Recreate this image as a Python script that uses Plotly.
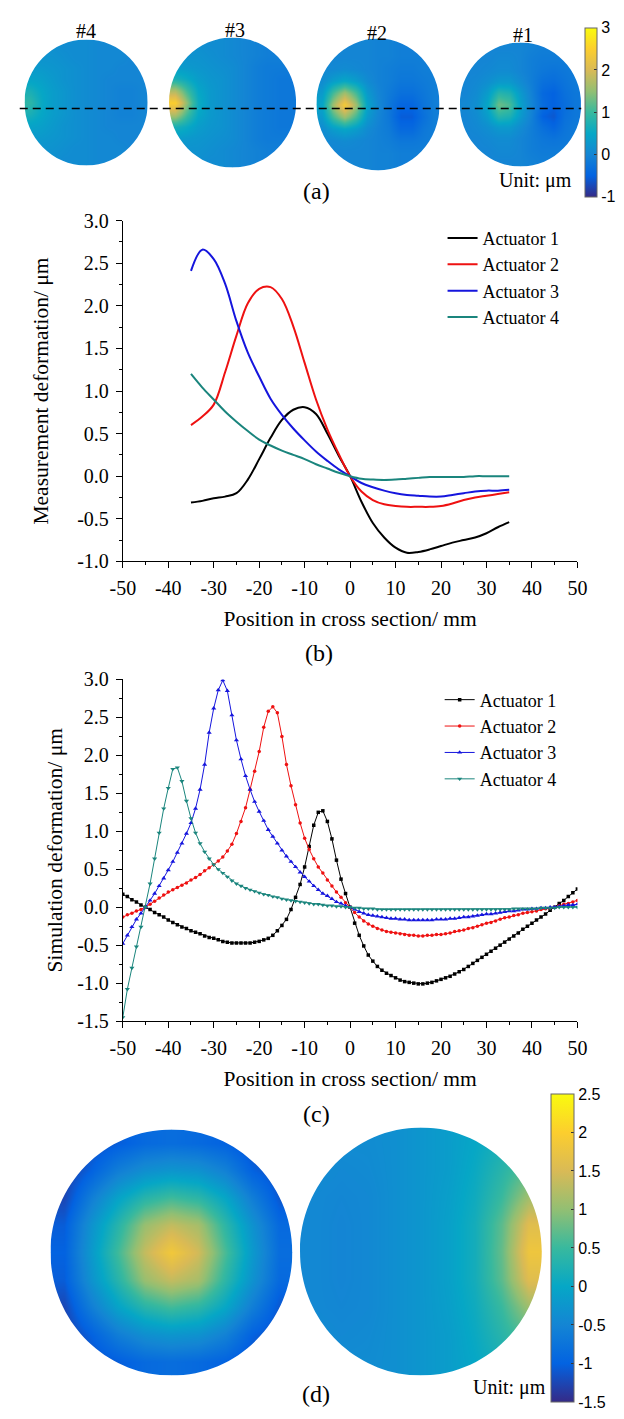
import plotly.graph_objects as go

W, H = 624, 1419
SERIF = "Liberation Serif"
SANS = "Liberation Sans"

# ---------------- data ----------------
actuators = ["Actuator 1", "Actuator 2", "Actuator 3", "Actuator 4"]
line_colors = ["#000000", "#ee1111", "#1515dd", "#1a857d"]

# (b) measured cross sections
pos_b = [-35, -32.5, -30, -27.5, -25, -22.5, -20, -17.5, -15, -12.5, -10, -7.5, -5, -2.5, 0,
         2.5, 5, 7.5, 10, 12.5, 15, 17.5, 20, 22.5, 25, 27.5, 30, 32.5, 35]
meas_a1 = [-0.31, -0.29, -0.26, -0.24, -0.20, -0.04, 0.20, 0.45, 0.66, 0.78, 0.81, 0.73, 0.50, 0.24, 0.00,
           -0.30, -0.55, -0.72, -0.84, -0.90, -0.89, -0.86, -0.82, -0.78, -0.75, -0.72, -0.67, -0.60, -0.54]
meas_a2 = [0.60, 0.70, 0.84, 1.22, 1.65, 2.03, 2.20, 2.22, 2.08, 1.76, 1.33, 0.90, 0.55, 0.26, 0.00,
           -0.18, -0.28, -0.33, -0.35, -0.36, -0.36, -0.36, -0.35, -0.32, -0.28, -0.25, -0.23, -0.21, -0.19]
meas_a3 = [2.41, 2.66, 2.55, 2.26, 1.82, 1.45, 1.17, 0.91, 0.72, 0.56, 0.42, 0.29, 0.18, 0.08, 0.00,
           -0.08, -0.13, -0.17, -0.20, -0.22, -0.23, -0.24, -0.24, -0.22, -0.20, -0.18, -0.17, -0.17, -0.16]
meas_a4 = [1.20, 1.04, 0.90, 0.76, 0.64, 0.53, 0.43, 0.36, 0.30, 0.25, 0.20, 0.14, 0.09, 0.04, 0.00,
           -0.03, -0.04, -0.045, -0.04, -0.03, -0.02, -0.01, -0.01, -0.01, -0.01, 0.00, 0.00, 0.00, 0.00]

# (c) simulated cross sections, -50..50 mm every 1 mm
pos_c = list(range(-50, 51))
sim_a1 = [0.17, 0.14, 0.10, 0.07, 0.03, 0.00, -0.03, -0.07, -0.10, -0.13,
          -0.17, -0.20, -0.23, -0.26, -0.28, -0.31, -0.33, -0.35, -0.38, -0.40,
          -0.41, -0.43, -0.45, -0.46, -0.47, -0.47, -0.47, -0.47, -0.47, -0.46,
          -0.45, -0.43, -0.41, -0.37, -0.31, -0.24, -0.16, -0.03, 0.13, 0.30,
          0.53, 0.80, 1.08, 1.25, 1.27, 1.13, 0.90, 0.62, 0.37, 0.18,
          0.00, -0.21, -0.37, -0.51, -0.63, -0.71, -0.78, -0.83, -0.87, -0.90,
          -0.93, -0.96, -0.98, -0.99, -1.00, -1.01, -1.01, -1.00, -0.99, -0.97,
          -0.95, -0.93, -0.91, -0.88, -0.85, -0.82, -0.78, -0.74, -0.70, -0.66,
          -0.62, -0.58, -0.54, -0.50, -0.46, -0.42, -0.38, -0.34, -0.29, -0.25,
          -0.21, -0.17, -0.13, -0.09, -0.04, 0.00, 0.05, 0.09, 0.14, 0.19, 0.24]
sim_a2 = [-0.13, -0.10, -0.08, -0.05, -0.03, 0.00, 0.04, 0.08, 0.12, 0.16,
          0.20, 0.23, 0.26, 0.29, 0.32, 0.36, 0.39, 0.43, 0.48, 0.52,
          0.56, 0.61, 0.66, 0.74, 0.83, 0.97, 1.13, 1.31, 1.55, 1.79,
          2.05, 2.37, 2.58, 2.64, 2.56, 2.25, 1.88, 1.60, 1.35, 1.11,
          0.91, 0.76, 0.64, 0.53, 0.45, 0.36, 0.28, 0.20, 0.13, 0.06,
          0.00, -0.07, -0.13, -0.18, -0.22, -0.25, -0.28, -0.30, -0.32, -0.33,
          -0.34, -0.35, -0.36, -0.37, -0.37, -0.38, -0.38, -0.37, -0.37, -0.36,
          -0.36, -0.35, -0.34, -0.32, -0.31, -0.30, -0.28, -0.27, -0.25, -0.23,
          -0.21, -0.20, -0.18, -0.16, -0.14, -0.13, -0.11, -0.10, -0.08, -0.07,
          -0.06, -0.05, -0.03, -0.02, -0.01, 0.00, 0.02, 0.04, 0.05, 0.07, 0.09]
sim_a3 = [-0.48, -0.37, -0.26, -0.16, -0.08, 0.00, 0.09, 0.18, 0.28, 0.38,
          0.49, 0.60, 0.72, 0.84, 0.97, 1.11, 1.30, 1.55, 1.88, 2.30,
          2.62, 2.86, 2.99, 2.85, 2.53, 2.20, 1.95, 1.73, 1.55, 1.39,
          1.26, 1.14, 1.02, 0.93, 0.84, 0.75, 0.67, 0.60, 0.53, 0.46,
          0.40, 0.34, 0.28, 0.23, 0.18, 0.15, 0.11, 0.07, 0.05, 0.02,
          0.00, -0.03, -0.06, -0.08, -0.10, -0.11, -0.12, -0.13, -0.14, -0.15,
          -0.15, -0.16, -0.16, -0.17, -0.17, -0.17, -0.17, -0.17, -0.17, -0.16,
          -0.16, -0.16, -0.15, -0.15, -0.14, -0.13, -0.13, -0.12, -0.11, -0.10,
          -0.09, -0.09, -0.08, -0.07, -0.06, -0.05, -0.05, -0.04, -0.03, -0.03,
          -0.02, -0.02, -0.01, -0.01, 0.00, 0.00, 0.01, 0.02, 0.03, 0.03, 0.04]
sim_a4 = [-1.45, -1.08, -0.80, -0.52, -0.26, 0.00, 0.31, 0.64, 0.98, 1.30,
          1.57, 1.82, 1.84, 1.66, 1.40, 1.17, 0.98, 0.84, 0.73, 0.64,
          0.56, 0.50, 0.45, 0.40, 0.35, 0.31, 0.28, 0.25, 0.23, 0.21,
          0.19, 0.17, 0.16, 0.14, 0.13, 0.11, 0.10, 0.09, 0.08, 0.07,
          0.06, 0.05, 0.04, 0.04, 0.03, 0.02, 0.02, 0.01, 0.01, 0.00,
          0.00, -0.01, -0.01, -0.02, -0.02, -0.02, -0.03, -0.03, -0.03, -0.03,
          -0.03, -0.03, -0.03, -0.03, -0.03, -0.03, -0.03, -0.03, -0.03, -0.03,
          -0.03, -0.03, -0.03, -0.03, -0.03, -0.03, -0.03, -0.03, -0.03, -0.03,
          -0.03, -0.03, -0.03, -0.03, -0.03, -0.03, -0.02, -0.02, -0.02, -0.02,
          -0.02, -0.02, -0.01, -0.01, -0.01, -0.01, 0.00, 0.00, 0.00, 0.00, 0.00]

# (a) measured surface maps (11 x 11, rows top -> bottom), µm
map_4 = [
    [0.15, 0.15, 0.15, 0.10, 0.10, 0.10, 0.05, 0.05, 0.05, 0.05, 0.05],
    [0.20, 0.20, 0.20, 0.15, 0.10, 0.10, 0.05, 0.05, 0.05, 0.00, 0.00],
    [0.30, 0.30, 0.25, 0.20, 0.15, 0.10, 0.05, 0.05, 0.00, 0.00, 0.00],
    [0.45, 0.40, 0.30, 0.20, 0.15, 0.10, 0.05, 0.00, 0.00, 0.00, 0.00],
    [0.70, 0.50, 0.35, 0.25, 0.15, 0.10, 0.05, 0.00, -0.05, -0.05, 0.00],
    [0.90, 0.55, 0.35, 0.25, 0.15, 0.10, 0.05, 0.00, -0.05, -0.05, 0.00],
    [0.70, 0.50, 0.35, 0.25, 0.15, 0.10, 0.05, 0.00, -0.05, -0.05, 0.00],
    [0.45, 0.40, 0.30, 0.20, 0.15, 0.10, 0.05, 0.00, 0.00, 0.00, 0.00],
    [0.30, 0.30, 0.25, 0.20, 0.15, 0.10, 0.05, 0.05, 0.00, 0.00, 0.00],
    [0.20, 0.20, 0.20, 0.15, 0.10, 0.10, 0.05, 0.05, 0.05, 0.00, 0.00],
    [0.15, 0.15, 0.15, 0.10, 0.10, 0.10, 0.05, 0.05, 0.05, 0.05, 0.05],
]
map_3 = [
    [0.15, 0.15, 0.15, 0.10, 0.10, 0.05, 0.00, -0.05, -0.10, -0.10, -0.10],
    [0.20, 0.20, 0.20, 0.15, 0.10, 0.05, 0.00, -0.05, -0.10, -0.10, -0.10],
    [0.35, 0.30, 0.25, 0.20, 0.15, 0.10, 0.00, -0.10, -0.15, -0.15, -0.15],
    [0.70, 0.55, 0.35, 0.25, 0.20, 0.10, 0.00, -0.10, -0.15, -0.20, -0.20],
    [1.70, 1.05, 0.50, 0.30, 0.20, 0.10, 0.00, -0.10, -0.15, -0.20, -0.20],
    [2.50, 1.50, 0.60, 0.30, 0.20, 0.10, 0.00, -0.10, -0.15, -0.20, -0.20],
    [1.70, 1.05, 0.50, 0.30, 0.20, 0.10, 0.00, -0.10, -0.15, -0.20, -0.20],
    [0.70, 0.55, 0.35, 0.25, 0.20, 0.10, 0.00, -0.10, -0.15, -0.20, -0.20],
    [0.35, 0.30, 0.25, 0.20, 0.15, 0.10, 0.00, -0.10, -0.15, -0.15, -0.15],
    [0.20, 0.20, 0.20, 0.15, 0.10, 0.05, 0.00, -0.05, -0.10, -0.10, -0.10],
    [0.15, 0.15, 0.15, 0.10, 0.10, 0.05, 0.00, -0.05, -0.10, -0.10, -0.10],
]
map_2 = [
    [0.00, 0.00, 0.00, 0.00, 0.00, -0.05, -0.05, -0.10, -0.10, -0.10, -0.10],
    [0.00, 0.00, 0.00, 0.00, 0.00, -0.05, -0.05, -0.10, -0.10, -0.10, -0.10],
    [0.05, 0.05, 0.10, 0.05, 0.00, -0.05, -0.10, -0.15, -0.15, -0.10, -0.10],
    [0.10, 0.35, 0.50, 0.35, 0.10, -0.05, -0.10, -0.20, -0.20, -0.15, -0.10],
    [0.30, 1.05, 1.60, 1.05, 0.30, 0.00, -0.15, -0.30, -0.30, -0.20, -0.10],
    [0.45, 1.60, 2.40, 1.60, 0.45, 0.05, -0.20, -0.45, -0.45, -0.25, -0.10],
    [0.30, 1.05, 1.60, 1.05, 0.30, 0.00, -0.20, -0.55, -0.55, -0.30, -0.10],
    [0.10, 0.35, 0.50, 0.35, 0.10, -0.05, -0.15, -0.40, -0.40, -0.20, -0.10],
    [0.05, 0.05, 0.10, 0.05, 0.00, -0.05, -0.10, -0.20, -0.20, -0.15, -0.10],
    [0.00, 0.00, 0.00, 0.00, 0.00, -0.05, -0.05, -0.10, -0.10, -0.10, -0.10],
    [0.00, 0.00, 0.00, 0.00, 0.00, -0.05, -0.05, -0.10, -0.10, -0.10, -0.10],
]
map_1 = [
    [0.00, 0.00, 0.00, 0.00, 0.00, 0.00, -0.05, -0.10, -0.10, -0.10, -0.10],
    [0.00, 0.00, 0.00, 0.05, 0.05, 0.00, -0.10, -0.15, -0.15, -0.15, -0.10],
    [0.00, 0.00, 0.05, 0.10, 0.10, 0.00, -0.10, -0.20, -0.25, -0.20, -0.15],
    [0.00, 0.05, 0.15, 0.30, 0.30, 0.10, -0.10, -0.30, -0.35, -0.25, -0.15],
    [0.00, 0.10, 0.35, 0.85, 0.75, 0.30, -0.05, -0.40, -0.50, -0.30, -0.20],
    [0.05, 0.15, 0.50, 1.30, 1.10, 0.40, 0.00, -0.35, -0.50, -0.35, -0.20],
    [0.00, 0.10, 0.35, 0.85, 0.75, 0.30, -0.05, -0.50, -0.60, -0.30, -0.20],
    [0.00, 0.05, 0.15, 0.30, 0.30, 0.10, -0.10, -0.30, -0.45, -0.25, -0.15],
    [0.00, 0.00, 0.05, 0.10, 0.10, 0.00, -0.10, -0.20, -0.25, -0.20, -0.15],
    [0.00, 0.00, 0.00, 0.05, 0.05, 0.00, -0.10, -0.15, -0.15, -0.15, -0.10],
    [0.00, 0.00, 0.00, 0.00, 0.00, 0.00, -0.05, -0.10, -0.10, -0.10, -0.10],
]
maps_a = [map_4, map_3, map_2, map_1]
labels_a = ["#4", "#3", "#2", "#1"]

# (d) simulated surface maps (9 x 9, rows top -> bottom), µm
map_d_left = [
    [-1.40, -1.20, -1.05, -0.90, -0.85, -0.90, -1.00, -1.20, -1.30],
    [-1.35, -1.00, -0.60, -0.35, -0.25, -0.30, -0.55, -1.00, -1.20],
    [-1.25, -0.60, -0.05, 0.35, 0.55, 0.40, 0.00, -0.60, -1.10],
    [-1.05, -0.30, 0.35, 1.05, 1.35, 1.15, 0.40, -0.30, -0.90],
    [-1.00, -0.20, 0.55, 1.35, 1.85, 1.45, 0.60, -0.20, -0.85],
    [-1.05, -0.30, 0.35, 1.05, 1.35, 1.15, 0.40, -0.30, -0.90],
    [-1.25, -0.60, -0.05, 0.35, 0.55, 0.40, 0.00, -0.60, -1.10],
    [-1.35, -1.00, -0.60, -0.35, -0.25, -0.30, -0.55, -1.00, -1.20],
    [-1.40, -1.20, -1.05, -0.90, -0.85, -0.90, -1.00, -1.20, -1.30],
]
map_d_right = [
    [-0.35, -0.40, -0.40, -0.35, -0.25, -0.15, 0.00, 0.20, 0.40],
    [-0.40, -0.45, -0.42, -0.35, -0.25, -0.15, 0.05, 0.35, 0.70],
    [-0.45, -0.48, -0.45, -0.35, -0.25, -0.12, 0.10, 0.50, 1.10],
    [-0.45, -0.50, -0.45, -0.35, -0.25, -0.10, 0.15, 0.70, 1.60],
    [-0.45, -0.50, -0.45, -0.35, -0.25, -0.10, 0.15, 0.75, 1.80],
    [-0.45, -0.50, -0.45, -0.35, -0.25, -0.10, 0.15, 0.70, 1.60],
    [-0.45, -0.48, -0.45, -0.35, -0.25, -0.12, 0.10, 0.50, 1.10],
    [-0.40, -0.45, -0.42, -0.35, -0.25, -0.15, 0.05, 0.35, 0.70],
    [-0.35, -0.40, -0.40, -0.35, -0.25, -0.15, 0.00, 0.20, 0.40],
]

# tick labels
xticks = [-50, -40, -30, -20, -10, 0, 10, 20, 30, 40, 50]
xtick_text = ["-50", "-40", "-30", "-20", "-10", "0", "10", "20", "30", "40", "50"]
yticks_b = [-1.0, -0.5, 0.0, 0.5, 1.0, 1.5, 2.0, 2.5, 3.0]
ytick_text_b = ["-1.0", "-0.5", "0.0", "0.5", "1.0", "1.5", "2.0", "2.5", "3.0"]
yticks_c = [-1.5, -1.0, -0.5, 0.0, 0.5, 1.0, 1.5, 2.0, 2.5, 3.0]
ytick_text_c = ["-1.5", "-1.0", "-0.5", "0.0", "0.5", "1.0", "1.5", "2.0", "2.5", "3.0"]
cb_a_ticks = [-1, 0, 1, 2, 3]
cb_a_text = ["-1", "0", "1", "2", "3"]
cb_d_ticks = [-1.5, -1, -0.5, 0, 0.5, 1, 1.5, 2, 2.5]
cb_d_text = ["-1.5", "-1", "-0.5", "0", "0.5", "1", "1.5", "2", "2.5"]

parula = [[0.0, "#352a87"], [0.125, "#0363e1"], [0.25, "#1485d4"], [0.375, "#06a7c6"],
          [0.5, "#38b99e"], [0.625, "#92bf73"], [0.75, "#d9ba56"], [0.875, "#fcce2e"],
          [1.0, "#f9fb0e"]]

# ---------------- layout helpers (pixels) ----------------
def px_x(p):
    return p / W

def px_y(p):
    return 1 - p / H

disks_a = [(76, 93, 64, 64), (228, 93, 66, 66), (379, 95, 64, 67), (527, 95, 63, 63)]
label_pos_a = [(76, 20), (230, 19), (378, 22), (530, 24)]
disks_d = [(164.5, 1261, 125.5, 125), (423.5, 1260, 125.5, 126)]

fig = go.Figure()


def add_map(z, disk, cax):
    cx, cy, rx, ry = disk
    n = len(z[0])
    m = len(z)
    fig.add_trace(go.Heatmap(
        z=z, x0=cx - rx + rx / n, dx=2 * rx / n, y0=cy - ry + ry / m, dy=2 * ry / m,
        zsmooth="best", coloraxis=cax, xaxis="x3", yaxis="y3", hoverinfo="skip"))


def corner_masks(disk):
    cx, cy, rx, ry = disk
    k, e = 0.5523, 2
    out = []
    for sx in (-1, 1):
        for sy in (-1, 1):
            p = (f"M{cx + sx * rx},{cy} "
                 f"C{cx + sx * rx},{cy + sy * k * ry} {cx + sx * k * rx},{cy + sy * ry} {cx},{cy + sy * ry} "
                 f"L{cx},{cy + sy * (ry + e)} L{cx + sx * (rx + e)},{cy + sy * (ry + e)} "
                 f"L{cx + sx * (rx + e)},{cy} Z")
            out.append(dict(type="path", path=p, xref="x3", yref="y3", fillcolor="white",
                            line=dict(width=0), layer="above"))
    return out


shapes = []
for z, d in zip(maps_a, disks_a):
    add_map(z, d, "coloraxis")
    shapes += corner_masks(d)
for z, d in zip([map_d_left, map_d_right], disks_d):
    add_map(z, d, "coloraxis2")
    shapes += corner_masks(d)

shapes.append(dict(type="line", xref="x3", yref="y3", x0=7, x1=590, y0=99, y1=99,
                   line=dict(color="black", width=1.5, dash="8px,5px"), layer="above"))

# (b) measured curves
for name, ys, col in zip(actuators, [meas_a1, meas_a2, meas_a3, meas_a4], line_colors):
    fig.add_trace(go.Scatter(x=pos_b, y=ys, mode="lines", name=name,
                             line=dict(color=col, width=2, shape="spline", smoothing=1.0),
                             xaxis="x", yaxis="y", legend="legend"))

# (c) simulated curves
symbols = ["square", "circle", "triangle-up", "triangle-down"]
msizes = [3.5, 3.5, 4.5, 4.5]
for name, ys, col, sym, ms in zip(actuators, [sim_a1, sim_a2, sim_a3, sim_a4], line_colors, symbols, msizes):
    fig.add_trace(go.Scatter(x=pos_c, y=ys, mode="lines+markers", name=name,
                             line=dict(color=col, width=1),
                             marker=dict(symbol=sym, size=ms, color=col, line=dict(width=0)),
                             xaxis="x2", yaxis="y2", legend="legend2"))

axis_common = dict(showline=True, linecolor="black", linewidth=1, ticks="outside", ticklen=6,
                   tickwidth=1, tickcolor="black", showgrid=False, zeroline=False,
                   tickfont=dict(family=SERIF, size=20, color="black"), ticklabelstandoff=3)

xa = dict(axis_common, range=[-50, 50], tickvals=xticks, ticktext=xtick_text,
          domain=[px_x(114), px_x(586)],
          minor=dict(dtick=5, tick0=0, ticks="outside", ticklen=3, tickcolor="black"),
          title=dict(text="Position in cross section/ mm", font=dict(family=SERIF, size=21.5), standoff=12))

annotations = []
for t, (x, y) in zip(labels_a, label_pos_a):
    annotations.append(dict(text=t, x=x, y=y, xref="x3", yref="y3", showarrow=False,
                            font=dict(family=SERIF, size=20, color="black")))
for t, x, y, s in [("(a)", 315, 183, 24), ("(b)", 318, 652, 24), ("(c)", 315, 1120, 24),
                   ("(d)", 315, 1405, 24), ("Unit: μm", 543, 172, 20), ("Unit: μm", 515, 1398, 20)]:
    annotations.append(dict(text=t, x=x, y=y, xref="x3", yref="y3", showarrow=False,
                            font=dict(family=SERIF, size=s, color="black")))

cb_common = dict(xanchor="left", yanchor="top", xpad=0, ypad=0, lenmode="pixels",
                 ticks="inside", ticklen=3, tickcolor="#333", outlinewidth=1, outlinecolor="#666",
                 tickfont=dict(family=SANS, size=16, color="black"))

fig.update_layout(
    width=W, height=H, autosize=False,
    margin=dict(l=0, r=0, t=0, b=0),
    paper_bgcolor="white", plot_bgcolor="rgba(0,0,0,0)",
    font=dict(family=SERIF, color="black"),
    xaxis=dict(xa, anchor="y"),
    yaxis=dict(axis_common, range=[-1, 3], tickvals=yticks_b, ticktext=ytick_text_b,
               domain=[px_y(559), px_y(213)], anchor="x",
               minor=dict(dtick=0.25, tick0=0, ticks="outside", ticklen=3, tickcolor="black"),
               title=dict(text="Measurement deformation/ μm", font=dict(family=SERIF, size=21.5), standoff=22)),
    xaxis2=dict(xa, anchor="y2"),
    yaxis2=dict(axis_common, range=[-1.5, 3], tickvals=yticks_c, ticktext=ytick_text_c,
                domain=[px_y(1026), px_y(679)], anchor="x2",
                minor=dict(dtick=0.25, tick0=0, ticks="outside", ticklen=3, tickcolor="black"),
                title=dict(text="Simulation deformation/ μm", font=dict(family=SERIF, size=21.5), standoff=8)),
    xaxis3=dict(domain=[0, 1], range=[0, W], visible=False, fixedrange=True, anchor="y3"),
    yaxis3=dict(domain=[0, 1], range=[H, 0], visible=False, fixedrange=True, anchor="x3"),
    coloraxis=dict(colorscale=parula, cmin=-1, cmax=3,
                   colorbar=dict(cb_common, x=px_x(594), y=px_y(17), thickness=12, len=169,
                                 tickvals=cb_a_ticks, ticktext=cb_a_text)),
    coloraxis2=dict(colorscale=parula, cmin=-1.5, cmax=2.5,
                    colorbar=dict(cb_common, x=px_x(559), y=px_y(1100), thickness=23, len=308,
                                  tickvals=cb_d_ticks, ticktext=cb_d_text)),
    legend=dict(x=px_x(446), y=px_y(212), xanchor="left", yanchor="top", bgcolor="rgba(0,0,0,0)",
                font=dict(family=SERIF, size=18, color="black"), tracegroupgap=0),
    legend2=dict(x=px_x(443), y=px_y(681), xanchor="left", yanchor="top", bgcolor="rgba(0,0,0,0)",
                 font=dict(family=SERIF, size=18, color="black"), tracegroupgap=0),
    shapes=shapes,
    annotations=annotations,
)

# page body has a default 8px margin; drop it so the figure sits at the window origin
fig.write_html("out.html", config={"displayModeBar": False},
               post_script="document.body.style.margin='0px';")
